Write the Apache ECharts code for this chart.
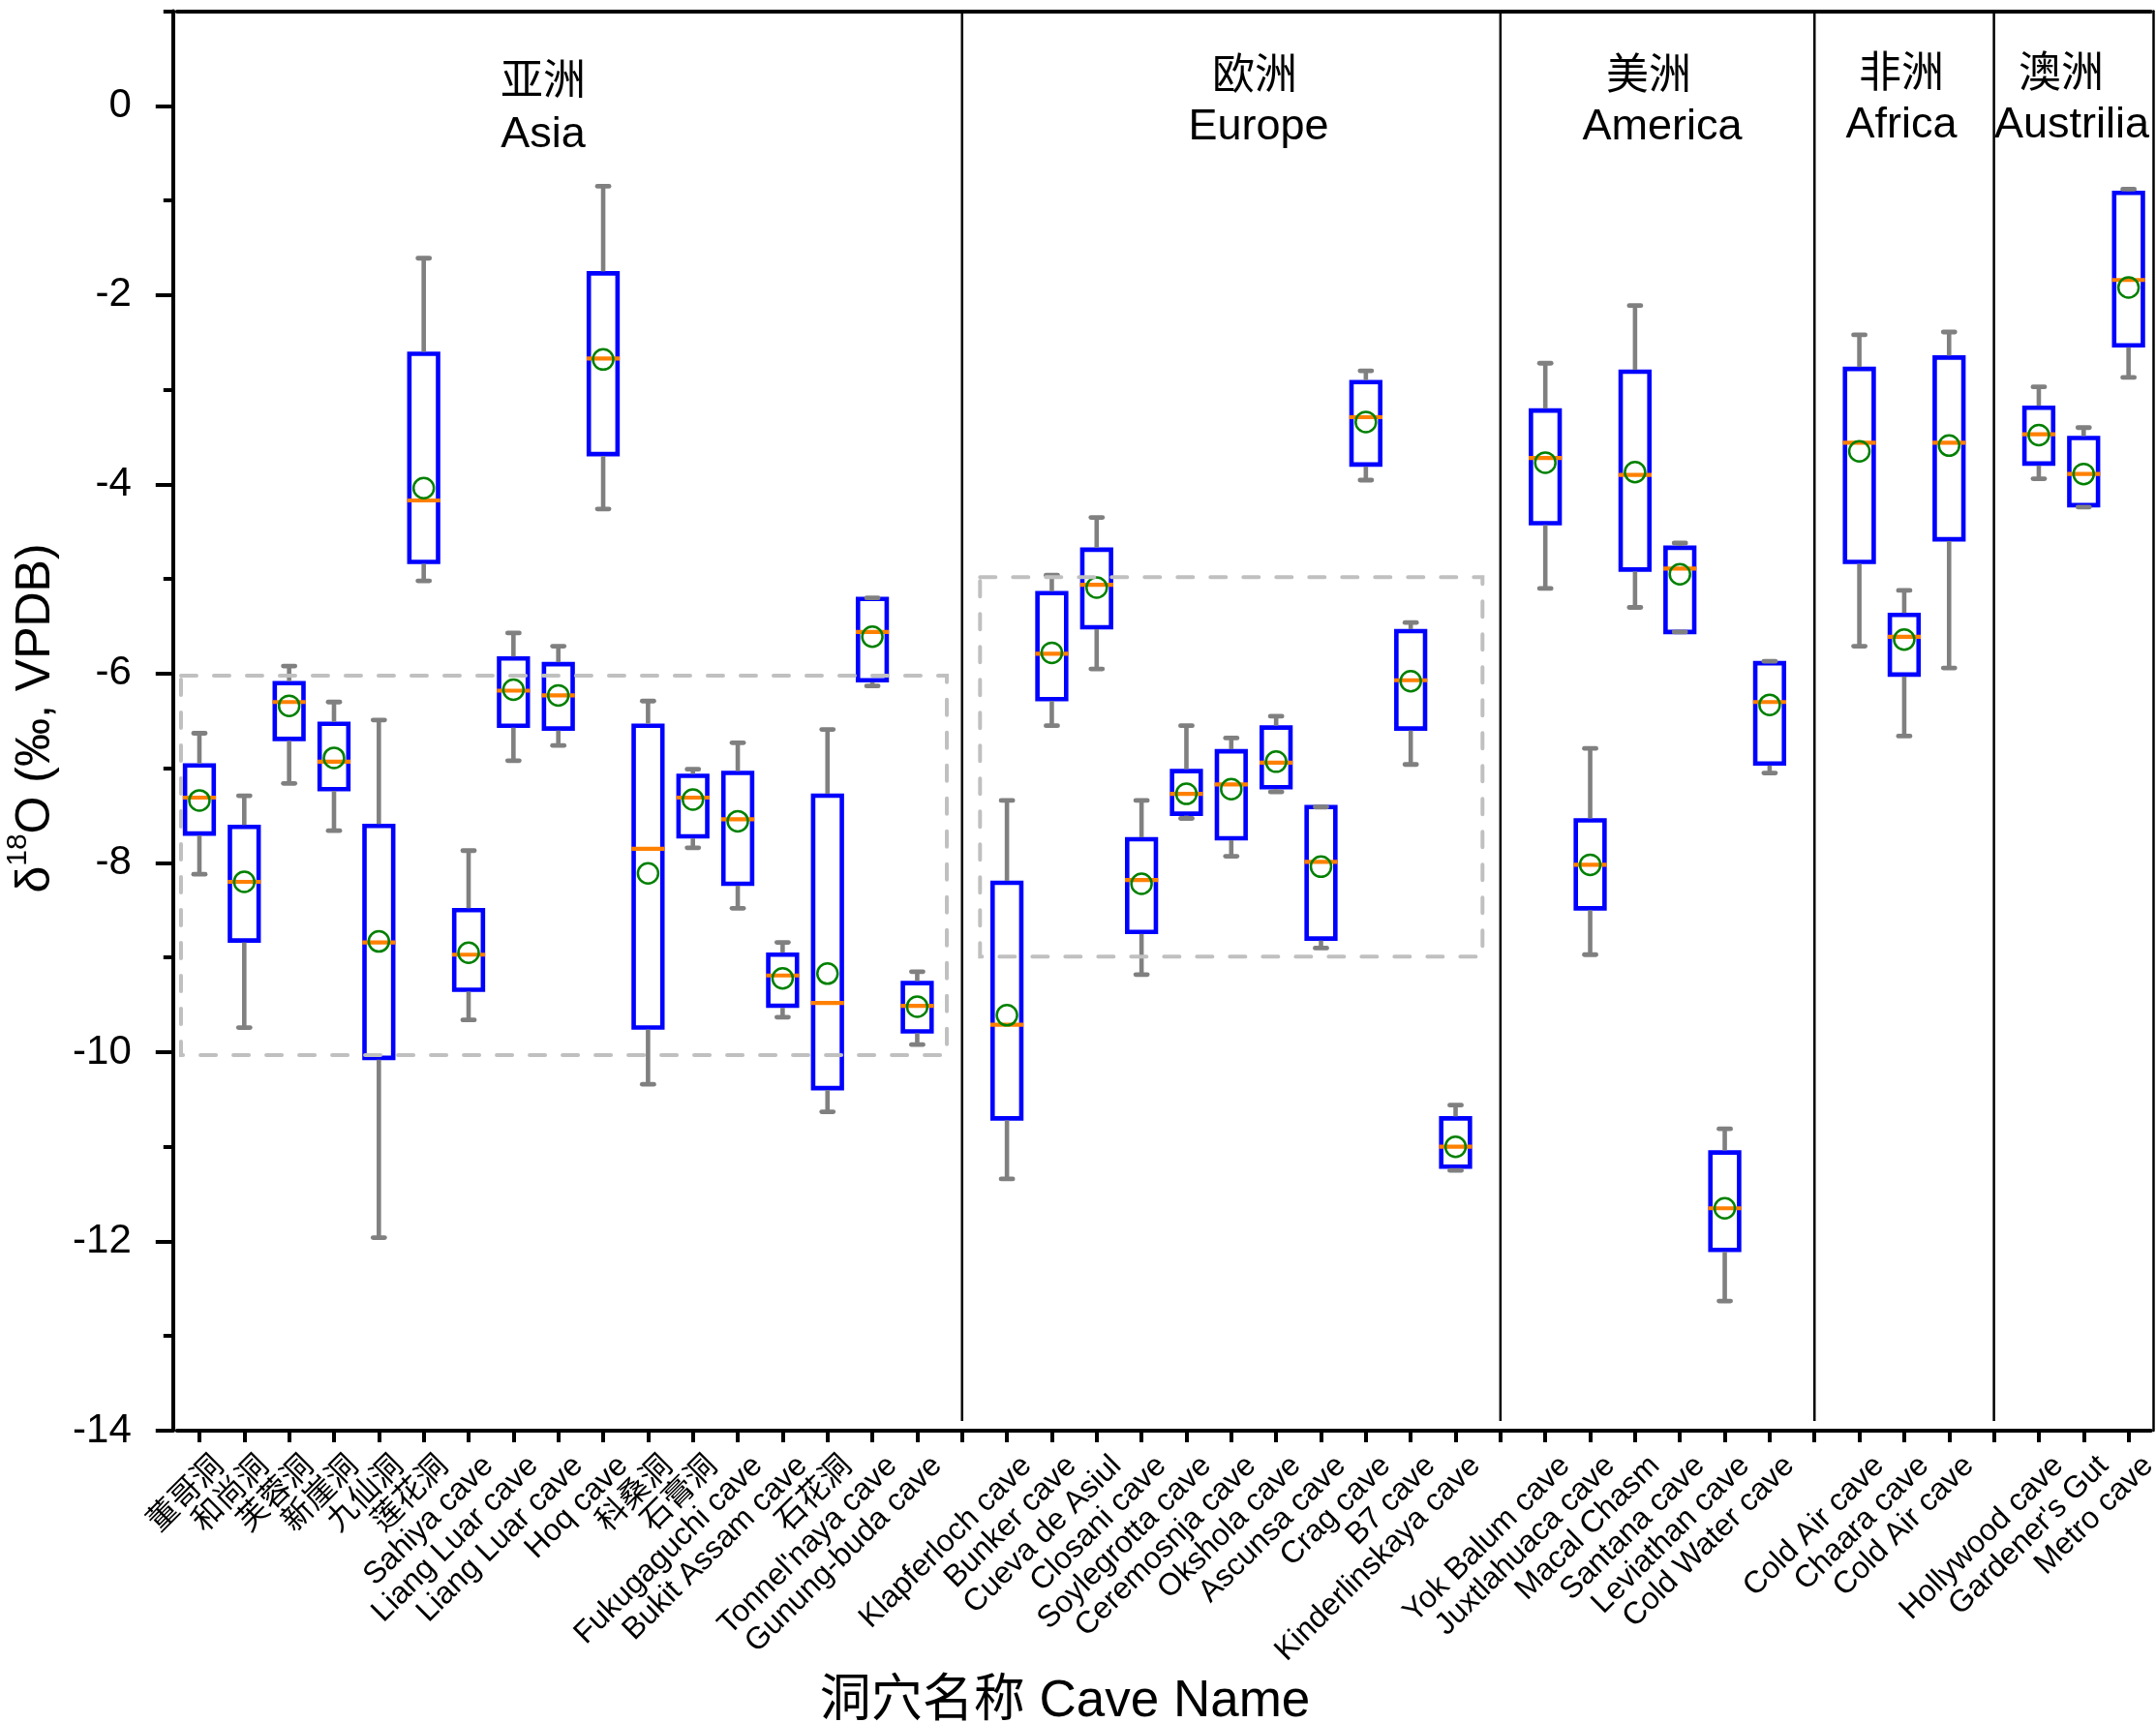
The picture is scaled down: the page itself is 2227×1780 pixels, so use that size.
<!DOCTYPE html>
<html><head><meta charset="utf-8">
<script src="https://cdn.jsdelivr.net/npm/echarts@6/dist/echarts.min.js"></script>
<style>html,body{margin:0;padding:0;background:#fff}#c{width:2227px;height:1780px}</style>
</head><body><div id="c"></div>
<script>
// ---------------- data ----------------
const categories = ['董哥洞','和尚洞','芙蓉洞','新崖洞','九仙洞','莲花洞','Sahiya cave','Liang Luar cave','Liang Luar cave','Hoq cave','科桑洞','石膏洞','Fukugaguchi cave','Bukit Assam cave','石花洞',"Tonnel'naya cave",'Gunung-buda cave','',
 'Klapferloch cave','Bunker cave','Cueva de Asiul','Closani cave','Soylegrotta cave','Ceremosnja cave','Okshola cave','Ascunsa cave','Crag cave','B7 cave','Kinderlinskaya cave','',
 'Yok Balum cave','Juxtlahuaca cave','Macal Chasm','Santana cave','Leviathan cave','Cold Water cave','',
 'Cold Air cave','Chaara cave','Cold Air cave','',
 'Hollywood cave',"Gardener's Gut",'Metro cave'];
const whiskerHigh = [-6.63,-7.29,-5.92,-6.30,-6.49,-1.61,-7.87,-5.57,-5.71,-0.85,-6.29,-7.01,-6.73,-8.84,-6.59,-5.20,-9.15,null,
 -7.34,-4.96,-4.35,-7.34,-6.55,-6.68,-6.45,-7.41,-2.80,-5.46,-10.56,null,
 -2.72,-6.79,-2.11,-4.62,-10.81,-5.87,null,
 -2.42,-5.12,-2.39,null,
 -2.97,-3.40,-0.88];
const q3 = [-6.97,-7.62,-6.10,-6.53,-7.61,-2.62,-8.50,-5.84,-5.90,-1.77,-6.55,-7.08,-7.05,-8.97,-7.29,-5.21,-9.27,null,
 -8.21,-5.15,-4.69,-7.75,-7.03,-6.82,-6.57,-7.41,-2.92,-5.55,-10.70,null,
 -3.22,-7.55,-2.81,-4.67,-11.06,-5.89,null,
 -2.78,-5.38,-2.66,null,
 -3.19,-3.51,-0.92];
const median = [-7.31,-8.20,-6.30,-6.93,-8.84,-4.17,-8.97,-6.18,-6.23,-2.67,-7.85,-7.31,-7.54,-9.19,-9.48,-5.56,-9.51,null,
 -9.71,-5.79,-5.06,-8.18,-7.27,-7.17,-6.94,-7.99,-3.29,-6.07,-11.00,null,
 -3.72,-8.02,-3.90,-4.89,-11.65,-6.30,null,
 -3.56,-5.61,-3.56,null,
 -3.47,-3.89,-1.84];
const mean = [-7.34,-8.20,-6.34,-6.89,-8.83,-4.04,-8.95,-6.17,-6.23,-2.68,-8.11,-7.33,-7.56,-9.22,-9.17,-5.61,-9.52,null,
 -9.61,-5.78,-5.09,-8.22,-7.27,-7.22,-6.93,-8.04,-3.34,-6.08,-11.00,null,
 -3.77,-8.02,-3.87,-4.95,-11.65,-6.33,null,
 -3.65,-5.64,-3.59,null,
 -3.48,-3.89,-1.92];
const q1 = [-7.69,-8.82,-6.69,-7.22,-10.06,-4.82,-9.34,-6.55,-6.58,-3.68,-9.74,-7.72,-8.22,-9.51,-10.38,-6.07,-9.78,null,
 -10.70,-6.27,-5.51,-8.73,-7.48,-7.74,-7.20,-8.80,-3.79,-6.58,-11.21,null,
 -4.41,-8.48,-4.90,-5.56,-12.09,-6.95,null,
 -4.82,-6.01,-4.58,null,
 -3.78,-4.22,-2.53];
const whiskerLow = [-8.12,-9.74,-7.16,-7.66,-11.96,-5.02,-9.66,-6.92,-6.76,-4.26,-10.34,-7.84,-8.48,-9.63,-10.63,-6.13,-9.92,null,
 -11.34,-6.55,-5.95,-9.18,-7.53,-7.93,-7.25,-8.90,-3.955,-6.96,-11.25,null,
 -5.10,-8.97,-5.30,-5.56,-12.63,-7.05,null,
 -5.71,-6.66,-5.94,null,
 -3.94,-4.24,-2.87];
const yTickLabels = [0,-2,-4,-6,-8,-10,-12,-14];
const yMinorTicks = [1,0,-1,-2,-3,-4,-5,-6,-7,-8,-9,-10,-11,-12,-13,-14];
const dividerIndex = [17,29,36,40];
const groupZh = ['亚洲','欧洲','美洲','非洲','澳洲'];
const groupEn = ['Asia','Europe','America','Africa','Austrilia'];
// dashed reference rectangles (category-index units, value units)
const refX0 = [-0.41, 17.40];
const refX1 = [16.66, 28.60];
const refYTop = [-6.02, -4.98];
const refYBottom = [-10.03, -8.99];

// ---------------- build ----------------
const boxData = [];
categories.forEach((c, i) => {
  if (median[i] != null) boxData.push([i, whiskerLow[i], q1[i], median[i], q3[i], whiskerHigh[i], mean[i]]);
});
const refData = refX0.map((v, i) => [v, refX1[i], refYTop[i], refYBottom[i]]);
const divData = dividerIndex.map(v => [v, 0]);

const FONT = '"Liberation Sans", Arial, "Noto Sans CJK SC", sans-serif';

function renderBox(params, api) {
  const xi = api.value(0);
  const lo = api.coord([xi, api.value(1)]);
  const b1 = api.coord([xi, api.value(2)]);
  const md = api.coord([xi, api.value(3)]);
  const b3 = api.coord([xi, api.value(4)]);
  const hi = api.coord([xi, api.value(5)]);
  const mn = api.coord([xi, api.value(6)]);
  const band = api.size([1, 0])[0];
  const cx = lo[0];
  const hw = band * 0.32;
  const capHw = band * 0.13;
  const grey = '#808080';
  return {
    type: 'group',
    children: [
      { type: 'rect', shape: { x: cx - hw, y: b3[1], width: 2 * hw, height: b1[1] - b3[1] },
        style: { fill: 'transparent', stroke: '#0000ff', lineWidth: 4.6 } },
      { type: 'line', shape: { x1: cx, y1: b3[1] - 2, x2: cx, y2: hi[1] }, style: { stroke: grey, lineWidth: 4.6 } },
      { type: 'line', shape: { x1: cx, y1: b1[1] + 2, x2: cx, y2: lo[1] }, style: { stroke: grey, lineWidth: 4.6 } },
      { type: 'line', shape: { x1: cx - capHw, y1: hi[1], x2: cx + capHw, y2: hi[1] }, style: { stroke: grey, lineWidth: 4.8, lineCap: 'round' } },
      { type: 'line', shape: { x1: cx - capHw, y1: lo[1], x2: cx + capHw, y2: lo[1] }, style: { stroke: grey, lineWidth: 4.8, lineCap: 'round' } },
      { type: 'line', shape: { x1: cx - hw - 2.3, y1: md[1], x2: cx + hw + 2.3, y2: md[1] }, style: { stroke: '#ff8000', lineWidth: 4.2 } },
      { type: 'circle', shape: { cx: cx, cy: mn[1], r: 10.5 }, style: { fill: 'transparent', stroke: '#008000', lineWidth: 2.5 } }
    ]
  };
}
function renderRef(params, api) {
  const p0 = api.coord([api.value(0), api.value(2)]);
  const p1 = api.coord([api.value(1), api.value(3)]);
  return { type: 'rect', shape: { x: p0[0], y: p0[1], width: p1[0] - p0[0], height: p1[1] - p0[1] },
    style: { fill: 'transparent', stroke: '#c0c0c0', lineWidth: 4, lineDash: [16, 18], lineCap: 'round' } };
}
function renderDiv(params, api) {
  const x = api.coord([api.value(0), 0])[0];
  const cs = params.coordSys;
  return { type: 'line', shape: { x1: x, y1: cs.y, x2: x, y2: cs.y + cs.height - 10 },
    style: { stroke: '#000', lineWidth: 2.5 } };
}

const zhPos = [[561, 81], [1296, 75], [1703, 75], [1964, 73], [2129, 73]];
const enPos = [[561, 140], [1300, 132], [1717, 132], [1964, 130], [2140, 130]];
const graphics = [];
groupZh.forEach((t, i) => {
  graphics.push({ type: 'text', x: zhPos[i][0], y: zhPos[i][1], z: 10,
    style: { text: t, fill: '#000', font: '44px "Noto Sans CJK SC", sans-serif', align: 'center', verticalAlign: 'middle' } });
  graphics.push({ type: 'text', x: enPos[i][0], y: enPos[i][1], z: 10,
    style: { text: groupEn[i], fill: '#000', font: '45px "Liberation Sans", Arial, sans-serif', align: 'center', verticalAlign: 'middle' } });
});
graphics.push({ type: 'text', x: 33, y: 742, rotation: Math.PI / 2, z: 10,
  style: { text: '{n|δ}{s|18}{n|O (‰, VPDB)}', fill: '#000', align: 'center', verticalAlign: 'middle',
    rich: { n: { fontSize: 50, fontFamily: '"Liberation Sans", Arial, sans-serif', lineHeight: 58, verticalAlign: 'bottom' },
            s: { fontSize: 30, fontFamily: '"Liberation Sans", Arial, sans-serif', lineHeight: 30, verticalAlign: 'top' } } } });
graphics.push({ type: 'text', x: 1100, y: 1758, z: 10,
  style: { text: '洞穴名称 Cave Name', fill: '#000', font: '53px "Liberation Sans", Arial, "Noto Sans CJK SC", sans-serif', align: 'center', verticalAlign: 'middle' } });

const chart = echarts.init(document.getElementById('c'), null, { renderer: 'canvas' });
chart.setOption({
  animation: false,
  backgroundColor: '#fff',
  grid: { left: 182.8, right: 5.2, top: 11.6, bottom: 302, containLabel: false, outerBoundsMode: 'none' },
  xAxis: [
    { type: 'category', data: categories, boundaryGap: true, position: 'bottom',
      axisLine: { show: true, onZero: false, lineStyle: { color: '#000', width: 4 } },
      axisTick: { show: true, alignWithLabel: true, interval: 0, length: 12, lineStyle: { color: '#000', width: 4 } },
      axisLabel: { interval: 0, rotate: 45, margin: 11, color: '#000', fontSize: 32, fontFamily: FONT,
        align: 'right', verticalAlign: 'top', padding: [13, 0, 0, 0], hideOverlap: false },
      splitLine: { show: false } },
    { type: 'value', min: -0.5, max: 43.5, position: 'top',
      axisLine: { show: true, onZero: false, lineStyle: { color: '#000', width: 4 } },
      axisTick: { show: false }, axisLabel: { show: false }, splitLine: { show: false } }
  ],
  yAxis: [
    { type: 'value', min: -14, max: 1, interval: 2, position: 'left', offset: 4,
      axisLine: { show: true, onZero: false, lineStyle: { color: '#000', width: 4 } },
      axisTick: { show: true, customValues: yTickLabels, length: 18, lineStyle: { color: '#000', width: 4 } },
      axisLabel: { show: true, customValues: yTickLabels, margin: 43, color: '#000', fontSize: 42, fontFamily: FONT },
      splitLine: { show: false } },
    { type: 'value', min: -14, max: 1, interval: 1, position: 'left', offset: 4,
      axisLine: { show: false, onZero: false },
      axisTick: { show: true, customValues: yMinorTicks, length: 10, lineStyle: { color: '#000', width: 4 } },
      axisLabel: { show: false }, splitLine: { show: false } },
    { type: 'value', min: -14, max: 1, position: 'right', offset: 2,
      axisLine: { show: true, onZero: false, lineStyle: { color: '#000', width: 2.5 } },
      axisTick: { show: false }, axisLabel: { show: false }, splitLine: { show: false } }
  ],
  series: [
    { type: 'custom', name: 'dividers', xAxisIndex: 0, yAxisIndex: 0, data: divData, encode: { x: 0, y: 1 },
      renderItem: renderDiv, z: 1, silent: true },
    { type: 'custom', name: 'boxes', xAxisIndex: 0, yAxisIndex: 0, data: boxData,
      encode: { x: 0, y: [1, 2, 3, 4, 5, 6] }, renderItem: renderBox, z: 3, silent: true },
    { type: 'custom', name: 'ref', xAxisIndex: 1, yAxisIndex: 0, data: refData,
      encode: { x: [0, 1], y: [2, 3] }, renderItem: renderRef, z: 4, silent: true }
  ],
  graphic: graphics
});
</script></body></html>
